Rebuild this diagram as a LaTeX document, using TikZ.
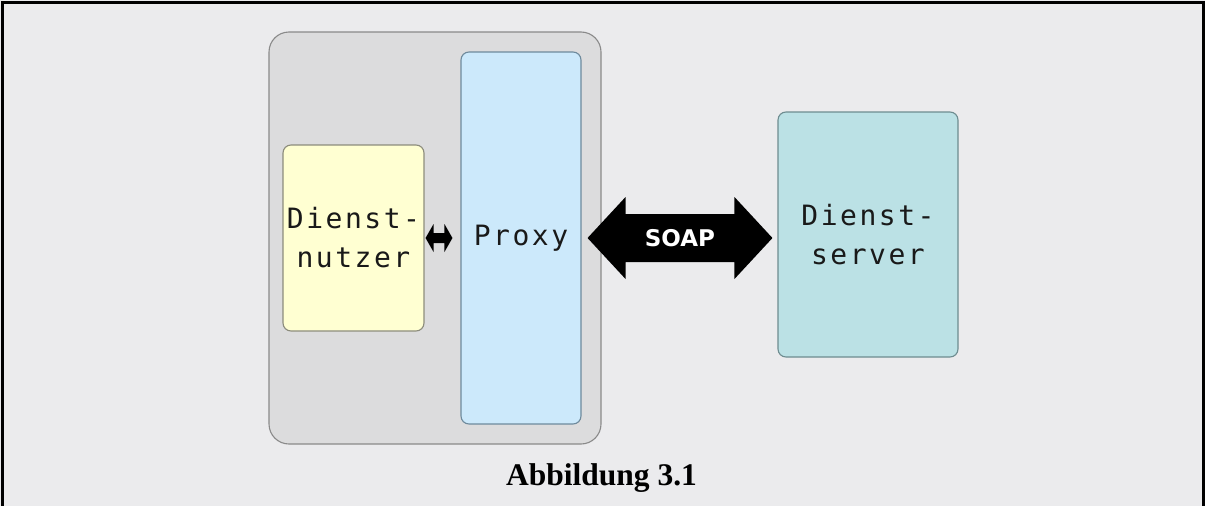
\documentclass[tikz,border=0pt]{standalone}
\usepackage{fontspec}
\setmainfont{Liberation Serif}
\newfontfamily\boxfont[LetterSpace=9]{DejaVu Sans Mono}
\newfontfamily\tagfont{DejaVu Sans}
\usetikzlibrary{calc}

\definecolor{pagebg}{HTML}{EBEBED}
\definecolor{hostfill}{HTML}{DCDCDD}
\definecolor{hostline}{HTML}{8A8A8A}
\definecolor{userfill}{HTML}{FFFFD2}
\definecolor{userline}{HTML}{8C8C7C}
\definecolor{proxyfill}{HTML}{CCE9FB}
\definecolor{proxyline}{HTML}{6E8A9C}
\definecolor{serverfill}{HTML}{BBE1E5}
\definecolor{serverline}{HTML}{6E8C90}

\tikzset{
  panel/.style={rounded corners=8pt, line width=1.1pt, inner sep=0pt, align=center,
    font=\boxfont\fontsize{28}{39}\selectfont, text=black!90},
  fatarrow/.style={fill=black},
}

\begin{document}
\begin{tikzpicture}[x=1pt,y=-1pt]
  % page and frame
  \fill[pagebg] (0,0) rectangle (1205,506);
  \useasboundingbox (0,0) rectangle (1205,506);
  \draw[line width=3pt] (2.5,506) -- (2.5,2) -- (1203.5,2) -- (1203.5,506);

  % client host with its two components
  \node[draw=hostline, fill=hostfill, rounded corners=20pt, line width=1.1pt,
        minimum width=332pt, minimum height=412pt, inner sep=0pt] (host) at (435,238) {};
  \node[panel, draw=userline, fill=userfill, minimum width=141pt, minimum height=186pt]
        (user) at (353.5,238) {Dienst-\\nutzer};
  \node[panel, draw=proxyline, fill=proxyfill, minimum width=120pt, minimum height=372pt]
        (proxy) at (521,238) {Proxy};

  % remote service
  \node[panel, draw=serverline, fill=serverfill, minimum width=180pt, minimum height=245pt]
        (server) at (868,234.5) {Dienst-\\server};

  % local call between user and proxy
  \coordinate (ua) at ($(user.east)+(1,0)$);
  \coordinate (ub) at ($(proxy.west)+(-8,0)$);
  \fill[fatarrow] (ua) -- ($(ua)+(8,-14)$) -- ($(ua)+(8,-5)$) -- ($(ub)+(-8,-5)$)
    -- ($(ub)+(-8,-14)$) -- (ub) -- ($(ub)+(-8,14)$) -- ($(ub)+(-8,5)$)
    -- ($(ua)+(8,5)$) -- ($(ua)+(8,14)$) -- cycle;

  % SOAP link between proxy and server
  \coordinate (sa) at ($(proxy.east)+(6,0)$);
  \coordinate (sb) at ($(server.west|-proxy.east)+(-5,0)$);
  \fill[fatarrow] (sa) -- ($(sa)+(38,-41)$) -- ($(sa)+(38,-24)$) -- ($(sb)+(-38,-24)$)
    -- ($(sb)+(-38,-41)$) -- (sb) -- ($(sb)+(-38,41)$) -- ($(sb)+(-38,24)$)
    -- ($(sa)+(38,24)$) -- ($(sa)+(38,41)$) -- cycle;
  \node[text=white, font=\tagfont\bfseries\fontsize{23}{27}\selectfont, inner sep=0pt]
        (soap) at ($(sa)!0.5!(sb)$) {SOAP};

  % caption
  \node[anchor=base, inner sep=0pt, font=\bfseries\fontsize{31.5}{36}\selectfont]
        (caption) at (601.5,485) {Abbildung 3.1};
\end{tikzpicture}
\end{document}
